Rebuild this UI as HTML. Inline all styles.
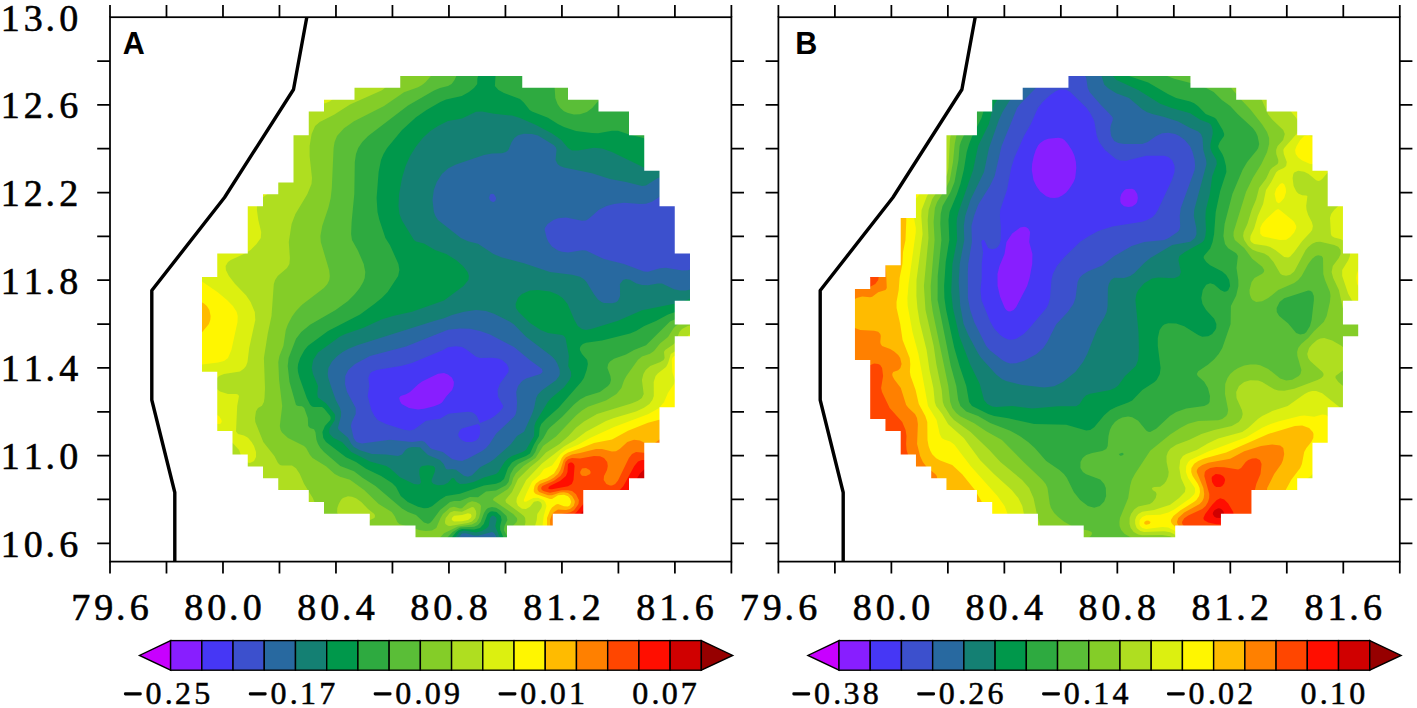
<!DOCTYPE html>
<html><head><meta charset="utf-8"><style>
html,body{margin:0;padding:0;background:#fff;overflow:hidden;width:1417px;height:708px;}
svg{display:block;}
.ax{font-family:"Liberation Serif",serif;font-size:38px;fill:#000;stroke:#000;stroke-width:0.6px;}
.cb{font-family:"Liberation Serif",serif;font-size:32px;fill:#000;stroke:#000;stroke-width:0.5px;}
.pl{font-family:"Liberation Sans",sans-serif;font-weight:bold;font-size:30.5px;fill:#000;}
</style></head><body>
<svg width="1417" height="708" viewBox="0 0 1417 708">
<rect width="1417" height="708" fill="#fff"/>
<defs>
<mask id="dm0" maskUnits="userSpaceOnUse" x="0" y="0" width="1417" height="708"><path d="M202.00,277.11 L217.25,277.11 L217.25,253.45 L232.50,253.45 L232.50,253.45 L247.75,253.45 L247.75,206.13 L263.00,206.13 L263.00,194.30 L278.25,194.30 L278.25,182.47 L293.50,182.47 L293.50,135.15 L308.75,135.15 L308.75,111.49 L324.00,111.49 L324.00,99.66 L339.25,99.66 L339.25,99.66 L354.50,99.66 L354.50,87.83 L369.75,87.83 L369.75,87.83 L385.00,87.83 L385.00,87.83 L400.25,87.83 L400.25,76.00 L415.50,76.00 L415.50,76.00 L430.75,76.00 L430.75,76.00 L446.00,76.00 L446.00,76.00 L461.25,76.00 L461.25,76.00 L476.50,76.00 L476.50,76.00 L491.75,76.00 L491.75,76.00 L507.00,76.00 L507.00,76.00 L522.25,76.00 L522.25,87.83 L537.50,87.83 L537.50,87.83 L552.75,87.83 L552.75,87.83 L568.00,87.83 L568.00,99.66 L583.25,99.66 L583.25,99.66 L598.50,99.66 L598.50,111.49 L613.75,111.49 L613.75,111.49 L629.00,111.49 L629.00,135.15 L644.25,135.15 L644.25,170.64 L659.50,170.64 L659.50,206.13 L674.75,206.13 L674.75,253.45 L690.00,253.45 L690.00,300.77 L674.75,300.77 L674.75,407.24 L659.50,407.24 L659.50,442.73 L644.25,442.73 L644.25,478.22 L629.00,478.22 L629.00,490.05 L613.75,490.05 L613.75,490.05 L598.50,490.05 L598.50,490.05 L583.25,490.05 L583.25,513.71 L568.00,513.71 L568.00,513.71 L552.75,513.71 L552.75,525.54 L537.50,525.54 L537.50,525.54 L522.25,525.54 L522.25,525.54 L507.00,525.54 L507.00,537.37 L491.75,537.37 L491.75,537.37 L476.50,537.37 L476.50,537.37 L461.25,537.37 L461.25,537.37 L446.00,537.37 L446.00,537.37 L430.75,537.37 L430.75,537.37 L415.50,537.37 L415.50,525.54 L400.25,525.54 L400.25,525.54 L385.00,525.54 L385.00,525.54 L369.75,525.54 L369.75,513.71 L354.50,513.71 L354.50,513.71 L339.25,513.71 L339.25,513.71 L324.00,513.71 L324.00,501.88 L308.75,501.88 L308.75,490.05 L293.50,490.05 L293.50,490.05 L278.25,490.05 L278.25,478.22 L263.00,478.22 L263.00,466.39 L247.75,466.39 L247.75,454.56 L232.50,454.56 L232.50,430.90 L217.25,430.90 L217.25,371.75 L202.00,371.75ZM674.75,324.43h15.25v11.83h-15.25Z" fill="#fff"/></mask>
<mask id="dm1" maskUnits="userSpaceOnUse" x="0" y="0" width="1417" height="708"><path d="M854.95,288.94 L870.20,288.94 L870.20,277.11 L885.45,277.11 L885.45,265.28 L900.70,265.28 L900.70,217.96 L915.95,217.96 L915.95,194.30 L931.20,194.30 L931.20,194.30 L946.45,194.30 L946.45,135.15 L961.70,135.15 L961.70,135.15 L976.95,135.15 L976.95,111.49 L992.20,111.49 L992.20,99.66 L1007.45,99.66 L1007.45,99.66 L1022.70,99.66 L1022.70,87.83 L1037.95,87.83 L1037.95,87.83 L1053.20,87.83 L1053.20,87.83 L1068.45,87.83 L1068.45,76.00 L1083.70,76.00 L1083.70,76.00 L1098.95,76.00 L1098.95,76.00 L1114.20,76.00 L1114.20,76.00 L1129.45,76.00 L1129.45,76.00 L1144.70,76.00 L1144.70,76.00 L1159.95,76.00 L1159.95,76.00 L1175.20,76.00 L1175.20,76.00 L1190.45,76.00 L1190.45,87.83 L1205.70,87.83 L1205.70,87.83 L1220.95,87.83 L1220.95,87.83 L1236.20,87.83 L1236.20,99.66 L1251.45,99.66 L1251.45,99.66 L1266.70,99.66 L1266.70,111.49 L1281.95,111.49 L1281.95,111.49 L1297.20,111.49 L1297.20,135.15 L1312.45,135.15 L1312.45,170.64 L1327.70,170.64 L1327.70,206.13 L1342.95,206.13 L1342.95,253.45 L1358.20,253.45 L1358.20,300.77 L1342.95,300.77 L1342.95,407.24 L1327.70,407.24 L1327.70,442.73 L1312.45,442.73 L1312.45,478.22 L1297.20,478.22 L1297.20,490.05 L1281.95,490.05 L1281.95,490.05 L1266.70,490.05 L1266.70,490.05 L1251.45,490.05 L1251.45,513.71 L1236.20,513.71 L1236.20,513.71 L1220.95,513.71 L1220.95,525.54 L1205.70,525.54 L1205.70,525.54 L1190.45,525.54 L1190.45,525.54 L1175.20,525.54 L1175.20,537.37 L1159.95,537.37 L1159.95,537.37 L1144.70,537.37 L1144.70,537.37 L1129.45,537.37 L1129.45,537.37 L1114.20,537.37 L1114.20,537.37 L1098.95,537.37 L1098.95,537.37 L1083.70,537.37 L1083.70,525.54 L1068.45,525.54 L1068.45,525.54 L1053.20,525.54 L1053.20,525.54 L1037.95,525.54 L1037.95,513.71 L1022.70,513.71 L1022.70,513.71 L1007.45,513.71 L1007.45,513.71 L992.20,513.71 L992.20,501.88 L976.95,501.88 L976.95,490.05 L961.70,490.05 L961.70,490.05 L946.45,490.05 L946.45,478.22 L931.20,478.22 L931.20,466.39 L915.95,466.39 L915.95,454.56 L900.70,454.56 L900.70,430.90 L885.45,430.90 L885.45,419.07 L870.20,419.07 L870.20,359.92 L854.95,359.92ZM1342.95,324.43h15.25v11.83h-15.25Z" fill="#fff"/></mask>
</defs>
<g mask="url(#dm0)">
<rect x="178.0" y="62" width="526" height="490" fill="#c800ff"/>
<path d="M180,64l520 0.0 0 484.0-520 0z" fill="#881eff" fill-rule="evenodd"/>
<path d="M180,64l520 0.0 0 484.0-520 0zM438,373.7l-16 7.8-4 2.9-8 7.6-4 2.3-5.4 1.7-1.4 2.0 0.8 3.2 1.7 2.8 7.3 4.0 9 1.5 6-0.7 10-2.5 5.7-2.3 2.3-1.6 4.6-6.4 5.5-6.0 1.5-4.0 0.3-4.0-1.9-4.3-4-3.2-4-1.5z" fill="#4637f5" fill-rule="evenodd"/>
<path d="M180,64l520 0.0 0 484.0-219.9 0.0-6.1-1.0-4.2 1.0-289.8 0zM448,347.3l-4.8 2.7-31.2 13.1-10 2.7-25.5 4.2-4.5 1.7-2 1.7-1.7 4.6 1 8.0-1.6 10.0 3.6 14.0 3.2 6.0 3.2 4.0 8.3 4.0 18 5.8 6 0.8 4-1.1 12-8.7 14-2.0 8-4.8 2-0.4 18-1.8 4 0.5 3 1.7 1.8 2.0 3.2 6.9 10-3.9 4.7-3.0 4.6-4.0 3.3-4.0 0.6-2.0-5.2-9.2-0.4-6.8 2.4-6.5 8.4-11.5 0.2-4.0-1.9-4.0-4.7-4.0-4-1.5-6-0.7-12 0.1-4-1.1-10-7.6-4-2.1-6-0.9zM478,424l-16 4.6-2 1.6-1.8 3.8 0.2 2.0 1.6 2.6 2 1.7 4 1.7 6 0.1 4-1.5 2.5-2.6 1.5-4.0 0-7.7z" fill="#3c50cd" fill-rule="evenodd"/>
<path d="M180,64l520 0.0 0 140.3-8-4.8-8-3.6-10-2.6-6-0.3-6 2.2-10 6.5-6 2.0-6 0.3-16-1.3-9.9 1.3-7.5 2.0-8 4.0-8.6 7.8-4 2.6-4 0.4-16-3.3-8 0.7-4.5 1.8-5.8 4.0-2.8 4.0-0.2 2.0 2 8.0 1.8 4.0 3.5 4.4 6 4.1 4 1.3 6 0.6 14-2.1 4 0.3 18 8.4 20 5.0 20 7.6 4 0.2 12-3.5 6-0.6 16 2.7 6-0.1 5.2-2.3 6.8-5.2 0 285.2-206.1 0.0-1.8-8.0-2.1-1.9-12 1.7-12-2.2-2 0.3-2 2.0-2.3 8.1-279.7 0zM448,329.8l-42 16.8-36 9.4-14.9 8.0-6.8 6.0-3 6.0-0.3 8.0 2.1 8.0 8.6 16.0 0 6.0-3.9 8.0-0.9 4.0 2.8 12.0 2.3 3.4 2 1.2 4 0.9 28-3.8 22 2.2 10-1.2 2.8 1.3 5.2 5.7 2 1.2 10.9 3.1 9.1 6.9 6 1.7 4 0.3 6-2.3 14-7.5 4-3.0 3.5-4.1 6.5-10.3 18-17.0 1.7-2.7 0.9-4.0 0.4-8.0-0.8-10.0 1.8-6.1 4-4.9 4-2.5 14.4-4.5 2.2-2.0-0.6-3.0-12-8.8-16-13.1-24-12.6-10-3.6-10-2.2-10-0.3zM492,193.7l-2 0.9-0.9 3.4 0.9 2.3 2 1.5 2 0.1 1.8-1.9 0.3-2.0-2.1-3.7z" fill="#2869a0" fill-rule="evenodd"/>
<path d="M180,64l520 0.0 0 112.0-18-1.1-18 1.3-6.2 1.8-11.8 7.5-4 0.6-16-4.2-16-2.9-18-5.7-28-5.7-4-1.5-2.5-2.1-2-4.0 1-10.0-0.5-2.2-2-2.6-16-9.7-6-1.4-8-0.4-6 1.6-3.6 2.7-2.7 4.0-3.3 8.0-2.4 2.1-4 1.2-10 0.2-8 1.4-28 9.5-8 4.0-6.1 5.6-5.1 8.0-3 8.0-1.3 10.0 1.4 12.0 1.5 4.0 2.6 4.0 22.9 18.0 7.1 3.3 10 2.4 15.5 10.3 8.5 3.5 22 5.8 26 8.7 22 2.7 8 2.0 4 2.6 2.5 2.7 7.5 12.2 4 5.3 3.5 2.5 2.5 0.9 8 0.4 4-1.1 2-1.5 2.1-4.7-0.2-12.0 3.1-4.0 3-1.0 4 0.8 6 3.4 6 1.8 6 0.2 10-1.8 4 0.1 12 5.8 6 1.3 6-0.2 4-0.9 10-4.7 0 263.2-201 0.0-3-12.1-2-3.0-2-0.9-14 3.8-4-0.3-8-2.2-4 0.2-3.8 4.5-3.3 10.0-274.9 0zM464,311.7l-12 3.2-8 3.3-10 2.7-76 24.2-10 4.0-5.3 2.9-5.4 4.0-5.3 5.5-3.6 6.5-0.7 6.0 0.6 4.0 3.2 10.0 4.3 12.0 4.2 8.0 1.1 4.0-0.1 4.0-3.1 12.0 1 2.0 9.1 7.8 3.4 6.2 2.6 3.0 6 3.3 12 3.6 14 0.7 12 1.5 4-1.6 3.5-4.5 2.6-2.0 3.9-0.9 8 0.1 8 7.7 12 5.2 3.6 3.9 2.4 5.1 2 0.5 4-0.7 4 0.9 8 5.9 4 1.0 4-1.4 8-8.0 10-5.2 4-2.8 17-15.3 6-8.0 7-4.2 8-17.9 2.1-5.9 2-10.0 1.9-3.8 4.3-4.2 13.7-9.7 3.1-4.3 0.7-2.0-0.1-4.0-2.2-6.0-2.3-4.0-3.2-3.6-26-19.6-12-12.4-4-2.7-16-8.0-8-2.7-10-0.9z" fill="#148073" fill-rule="evenodd"/>
<path d="M180,64l520 0.0 0 91.3-8 1.3-10 2.8-26 11.1-4 0.1-4-1.1-36.1-17.5-9.9-3.6-8-0.6-16 2.8-6-0.1-4-2.4-6.7-8.1-9.3-6.5-16-8.5-16-7.1-8-2.3-18-1.9-12-2.2-6 0.2-14 6.8-14 2.4-10 5.0-8 5.4-7.2 6.7-6.8 8.4-5.9 9.6-4.5 10.0-3.6 12.2-2.9 15.8-0.6 12.0 1 8.0 2.5 6.4 12 19.7 2 1.3 8 2.2 11 6.4 11.3 4.0 9.7 5.9 7 6.1 4.6 6.0 1.3 4.0-0.5 4.0-4.9 6.0-19.5 14.5-32 11.2-18 4.0-12 3.6-19.1 8.7-17.6 6.0-5.3 2.5-22 15.9-4.8 7.6-1.5 8.0 1.3 6.0 5 12.0-0.7 8.0 0.7 3.4 8 5.8 8.7 10.8 0.5 2.0-0.4 4.0-5.1 8.0-0.5 4.0 0.5 2.0 3.9 4.0 8.4 4.1 9.3 9.9 18.7 9.6 16.3 4.4 3.7 2.3 10 8.9 14 6.8 4 0.6 2-0.7 1-1.9-1.7-8.0 0-4.0 0.7-2.2 2-1.9 6-0.7 5.3 0.8 1.9 2.0-0.5 4.0-3.1 8.0 0.1 2.0 2 2.0 4.3 1.2 6-0.4 4-2.1 4-4.7 2 0.3 2.7 3.7 3.3 2.0 6-0.2 7.6-1.8 10.4-4.5 12-3.6 2.3-1.9 6.3-10.0 3.4-3.5 4-2.6 10.6-3.9 3.4-2.3 8.1-13.7 0.3-10.0 1.3-4.0 12.1-20.0 3.5-4.0 12.7-10.8 5.5-7.2 1.7-4.0-0.2-4.0-2.8-6.0 0.7-10.0-3.4-18.0-1.5-1.9-2-1.1-14-1.9-7.3-3.1-10.7-7.1-11.3-10.9-2.8-4.0-0.3-4.0 2.3-6.0 4-4.0 8.1-3.4 8-0.7 12 1.7 8 3.1 4.6 3.3 5 6.0 6.8 16.0 3.4 6.0 4.2 3.0 4 0.9 6-1.2 26-7.9 24-10.6 36-7.3 22-7.4 0 252.5-196.6 0.0-2.4-8.0-5.1-12.0-0.6-2.0 1.3-6.0-0.2-2.0-2.4-2.3-2 0.1-2 2.1-1.3 8.1-1.7 2.0-5 3.0-6 1.6-12-2.0-4.5 1.4-4.8 6.0-4 10.0-270.7 0z" fill="#00984b" fill-rule="evenodd"/>
<path d="M180,64l520 0.0 0 64.0-12 3.8-26 11.0-4 0.4-4-0.7-10.6-4.5-13.4-3.2-12-4.0-6-0.1-14 2.5-6-0.2-16-2.1-12-3.9-6.1-3.0-9.9-6.3-16-6.2-2.3-1.5-5.7-7.3-4-3.6-16-6.0-5.5-3.1-3.6-4.0 0.6-10.0-1.1-4.0-2.4-3.0-4-1.5-4 0.9-4 3.4-2.6 6.2-0.2 6.0-3.2 4.0-5.1 4.0-7.1 4.0-15.8 3.6-5.7 2.4-13.8 8.0-10.5 7.2-14 12.8-14.9 18.0-3.6 6.0-2.5 6.0-2.4 12.0-2 26.0 0.9 14.0 1.9 8.0 6 18.0 4.6 7.2 8.4 18.8 1 6.0-1.3 6.0-10.5 16.0-5.9 6.0-7.4 6.0-14.3 10.4-32 16.5-20 14.8-3.5 4.3-4.4 8.0-2 6.0-0.4 4.0 0.3 4.0 1.6 6.0 7.2 20.0 3.2 6.6 2 1.8 2 0.5 8 0.1 2 1.4 6.2 7.6 0.5 2.0-0.4 2.0-5.4 6.0-2.5 6.0 0.9 6.0 2.7 4.1 20 15.2 10 4.6 10 6.8 15.1 7.3 10.9 7.0 4 4.1 4.7 8.9 7.1 6.0 10.2 4.8 6 1.4 4-0.1 4-1.9 8-6.5 6-3.6 14-2.4 24-8.1 12-1.9 4.6-1.7 3.4-3.1 4-10.9 4-5.4 4-2.7 10-4.0 4-2.5 4.3-9.4 4.7-8.0 0.7-8.0 1.6-4.0 4.7-5.0 12.4-11.0 22.8-26.0 2.7-4.0 2.8-8.0 1.2-6.0-0.7-4.0-5.2-6.0-2.1-4.0 0-2.0 0.9-2.0 2.1-2.0 3.1-1.2 16-2.3 28-7.0 6-2.6 8.3-4.9 11.7-4.9 12-6.7 32-11.0 0 244.6-192.1 0.0-7.7-18.0-0.1-4.0 1.5-6.0-0.8-4.0-4.3-4.0-4.5-0.8-2 0.6-2.4 2.2-3.9 10.0-3.7 4.0-6 1.6-12-0.7-3.1 1.1-2.7 2.0-6.4 8.0-3.4 8.0-266.4 0z" fill="#2eaa40" fill-rule="evenodd"/>
<path d="M180,64l281.8 0.0-7.3 16.0-2.9 4.0-3.6 1.9-8 2.2-6 2.5-26 15.0-39.9 30.4-5.9 6.0-4 6.0-2.2 6.0-1.2 8.0-0.5 32.0-2.7 28.0-0.5 12.0 0.9 6.1 6 10.6 5.7 13.3 1.6 8.0-0.6 6.0-1.5 4.0-3.5 6.0-4.8 6.0-6.9 6.9-12.4 9.1-25.6 14.7-8.8 7.3-5.2 6.8-7.4 19.2-0.9 8.0 1.8 16.0 6.5 23.0 2 0.9 4 0.3 2.2 1.8 3.6 10.0 0.4 8.0 1.8 2.0 4 1.3 1.4 2.7 1.1 8.0 1.5 4.0 2.4 4.0 3.6 3.9 16.3 14.1 13.7 5.3 8.9 6.7 12.6 8.0 26.5 22.6 6 3.5 8 2.9 8 7.4 4 1.3 2-0.8 2-1.9 8.1-11.0 9.9-7.9 4-1.0 6-0.1 10-4.0 8 0.3 8-5.9 10-1.0 10-5.2 2.5-3.2 2-8.0 3.4-6.0 4.2-4.0 11.9-6.0 2.6-2.0 2.7-4.0 2.7-7.0 5.4-7.0 4.4-8.0 2.2-2.6 12-10.3 12-12.5 6-5.1 6-3.3 13.9-4.2 8.1-6.0 2-2.6 1-3.4-0.6-4.0-3-8.0 0.8-4.0 1.8-2.6 4-2.7 12-4.2 8-4.5 12-4.8 24-23.8 16-7.0 14-4.2 0 237.8-187.2 0.0-1.4-4.0-7.6-14.0 0.7-4.0 2.9-6.0-0.9-4.0-6.5-6.1-4-2.1-4-0.8-4 1.1-2 1.6-2 3.4-3.4 8.9-2.6 3.1-4 1.7-14 0.8-7.4 4.4-7.4 8.0-3.6 8.0-261.6 0zM543.9,64l156.1 0.0 0 18.5-35.1 5.5-36.9 2.2-12 1.9-8 2.6-6 3.2-4 3.4-5.8 6.7-5.3 4.0-6.9 2.3-6 0.1-6-1.3-4-1.8-3.7-3.3-2.8-4.0-2.2-6.0-0.8-12.0-1.5-6.0-3-6.8z" fill="#5abe37" fill-rule="evenodd"/>
<path d="M180,64l264 0.0-2 3.7-2 2.0-8 5.1-6.3 7.2-3.7 3.1-4 2.1-14 5.1-20 13.6-30 15.3-10 7.0-7 7.8-2.4 6.0-1 6.0-1.8 40.0-1.1 10.0-2.4 10.0-6.1 18.0-1.8 10.0 0.4 6.0 8.3 28.0 0.7 6.0-0.5 4.0-1.9 4.0-3.5 4.0-21.9 16.7-6 6.2-4 5.6-4 7.5-2.2 6.0-2.4 16.0-4 10.0-1.1 6.0 0.8 18.0 3.1 26.0-2.4 20.0 0.8 4.0 1.4 2.6 6 5.4 16 8.1 2.1 1.9 3.9 6.9 2.6 3.1 13.4 8.3 8.7 7.7 5.3 2.7 10 3.0 14.1 10.3 14.6 14.0 13 8.0 2.9 4.0 2.7 6.0 2 2.0 20.7 6.3 6 0.7 6-0.5 4.3-2.5 4.2-10.0 2.4-4.0 7.1-6.2 4-1.1 6 1.9 2-0.4 6-5.5 4-1.5 4 0.8 3.8 2.0 1.2 2.0-0.5 6.0-1.5 6.0-2.4 4.0-4.6 2.5-14 2.0-14 6.7-4 4.4-4.2 10.4-255.8 0zM684,321.1l16-4.4 0 231.3-181.4 0.0-1.2-4.0-5.3-10.0-1.2-4.0 1.1-3.0 4.6-5.0 0.7-2.0-0.4-2.0-3.7-4.0-20.3-14.0 1-2.0 14.1-9.0 3.5-5.0 1.7-6.0 2.8-4.7 7.6-7.3 11.9-8.0 7.6-12.0 12.9-9.5 20-21.1 6-4.9 6-3.7 18-6.2 10.5-6.6 4.9-6.0 2.6-7.5 2.4-4.5 11.6-16.2 4-3.2 8-2.8 4-2.8 6-7.4 8-6.6 5.7-9.0 2.3-2.3z" fill="#84cd28" fill-rule="evenodd"/>
<path d="M180,64l244 0.0-3.8 8.0-2.2 2.8-4 1.3-10-2.1-6 1.5-4 3.0-8 8.6-4 3.1-32 14.4-16 10.2-14.3 7.2-4.6 4.0-3.5 8.0-2 12.0 0 10.0 2.4 22.0-0.5 6.0-4.1 10.0-12 20.0-3.8 10.0-2.8 18.0 1.1 16.0-0.5 6.0-2.4 4.0-9.3 8.0-2.6 4.0-1.3 4.0-2.3 32.0-3.8 18.0-3.8 24.0 1.1 30.0-0.5 10.0-0.6 4.0-1.9 3.8-4 2.1-2 3.4-1 6.7 0.3 4.0 8 20.0 11.1 14.0 3.6 7.1 2 1.8 2 0.6 10 0.1 4 2.6 3.8 5.8 4.2 9.7 8.8 14.3 2.4 6.0 1.2 8.0-0.4 24.0-1.2 12.0-98.6 0.0-5.4-12.0-2.9-10.0-1.7-10.0-1-18.0-1.2-5.0-2-1.1-4 1.7-18 16.1zM687.7,326l12.3-2.6 0 224.6-174.9 0.0-2.2-14.0 2.6-12.0-0.4-4.0-1.2-2.0-2.5-2.0-15.4-11.5-0.6-2.5 6.6-8.1 6-12.9 12-11.7 9-7.3 7-7.6 13.5-8.4 9-8.0 7.5-8.3 8-6.2 13-7.5 35-10.8 6-2.5 3.9-2.7 1.8-4.0-1.8-14.0 1.5-6.0 2.3-4.0 4.5-4.0 10.2-4.0 3.2-2.0 1-2.0-0.6-6.0 1.1-2.0 8.9-6.1 2.4-3.9 3-8.0 2.6-3.1zM342.9,498l5.1-1.8 4 0.5 4 1.6 5.3 3.7 6.7 6.9 6.3 5.1 0.8 2.0-0.7 2.0-4.4 2.1-2 3.3-1.7 12.6 0.7 4.0 1.1 2.0 7.1 6.0-20.3 0.0-8.9-11.8-4-8.2-4.9-16.0 0.2-4.0 1.4-4.0 2.2-4zM462,511.8l10-4.8 2 0.6 2 3.3 0.3 3.1-0.9 4.0-3.4 3.6-4 1.3-18 3.1-2-0.2-2.6-1.8-0.5-2.0 0.8-4.0 4.3-5.5 4-1.6zM421.5,540l4.5-0.6 2 0.6 0 3.3-2.7 4.7-23.2 0.0 8.2-4z" fill="#afde20" fill-rule="evenodd"/>
<path d="M180,64l202.9 0.0-3.9 4.0-7.7 6.0-23.3 13.9-18 13.3-4 1.9-14 2.7-8 2.9-7.8 5.3-5.6 6.0-4 6.0-3 6.0-3.7 12.0-1.3 12.0 0.4 22.0-1 6.6-4 5.0-10 7.0-3.8 3.4-2.2 3.3-1 2.7-0.1 4.0 1.4 10.0 2.9 12.0-0.4 6.0-4.3 6.0-5.9 6.0-4.6 3.0-15.2 7.0-2.8 2.1-2.4 3.9 0.3 4.0 3 6.0 6.2 8.0 10.9 11.2 4.6 6.8 4.2 10.0 0.5 8.0-6.1 28.0-1.7 14.0-1.5 4.0-2 2.6-4 2.8-16 2.6-5 2.0-4 4.0-0.9 4.0 1.5 4.0 4.4 3.6 8 2.4 8.1 0.0 1.9 0.6 1 1.4-1.8 10.0-1.2 25.4 2 2.5 6 1.6 4 2.3 3.6 4.2 2.4 4.1 2 5.9 0 5.1-2 4.0-4 2.0-4-0.8-2-1.4-2.2-2.9-2.7-8.0-7.4-8.0-3.7-2.4-6-0.7-6 0.5-36 6.4zM690.4,334l9.6-2.6 0 216.6-168.2 0.0 0.4-12.0 4.5-16.0 0.6-6.0 4-6.0 0.6-2.0-0.2-2.0-1.3-2.0-2.4-1.1-4 0.9-4 4.9-4 2.3-4-0.3-4-3.0-1.6-3.7 0.4-4.0 9.4-18.0 15.8-16.6 22-16.8 11-6.6 11-8.2 20-10.7 8-3.1 22-6.5 8-3.7 5.4-3.8 3-4.0 1.4-4.0-0.1-14.0 1.9-6.0 2.4-2.8 8-6.3 2-3.6 2.8-9.3 9.2-6.0 8-12.2zM462,515l6-1.7 2.9 0.7 0.7 2.0-0.8 2.0-2.8 2.0-6 1.2-8 0.3-2.2-1.5 0.1-2.0 2.1-2.2z" fill="#dcf010" fill-rule="evenodd"/>
<path d="M180,64l166.2 0.0-7.2 6.0-15.4 10.0-7.6 3.3-24 8.1-14 7.9-8.1 6.7-7.4 8.0-5.8 8.0-5.6 10.0-10 24.0-9.2 28.0-1.7 12.0 0.8 20.0-1 4.8-4 4.6-16 8.5-7.6 6.1-5.7 8.0-1.7 4.0-1.3 6.0 0.7 10.0 2.2 6.0 2.4 4.0 3.7 4.0 14.7 10.0 9.6 8.0 5.9 6.0 3.8 6.0 1 4.0-0.2 6.0-6.1 28.0-3.4 7.9-4 3.0-6 1.7-16 1.9-7.2 3.5-6.5 6.0-8.3 11.8zM696.1,344l3.9-1.6 0 205.6-162 0.0 1.1-10.0 3.4-12.0 1.2-10.0 2.8-10.0-1.3-4.0-1.8-2.0-5.4-2.2-4.8 0.2-7.2 3.7-2-0.3-0.2-1.4 2.4-6.0 5.8-12.2 8-7.4 4-5.3 8-3.7 8.6-11.4 5.4-4.2 12-5.1 12-6.8 24-10.8 34.5-13.1 10.6-6.0 5-6.0 3.9-9.3 6-8.7 0.7-2.0 0.1-2.0-2.5-8.0-0.5-12.0 0.5-2.0 1.7-2.0 11.1-4zM209.1,414l4.9-0.4 5 2.4 2.5 4.0 0.2 2.0-1.5 2.0-6.2-0.2-4-1.8-2.3-2.0-1.1-2.0 0.1-2z" fill="#fff600" fill-rule="evenodd"/>
<path d="M180,64l105.9 0.0-19.9 10.5-14 9.1-12.4 10.4-11.4 12.0-9.2 12.0-10.3 16.0-9.7 18.0-15 31.3-4 6.2zM180,344.9l0-54.6 24 13.1 2.8 2.6 2.6 4.0 1.2 6.0-0.3 4.0-1.4 4.0-8.9 10.7-8 5.4zM685.7,364l14.3-6.8 0 190.8-156.3 0.0 0.7-8.0 2.6-14.0 0-8.0 3-7.5 2-2.9 4-3.2 2-0.4 6 2.2 4 0.2 2-1.2 1.2-3.2-1.2-3.4-2-2.3-4-1.6-6 0.5-6 3.7-2 0.1-14.2-5.0-1.9-2.0-0.2-2.0 0.8-4.0 1.5-2.6 4-2.9 7-2.5 7-4.6 4-6.3 3.7-9.1 2.3-2.9 4-2.7 12-3.8 14-5.6 18-3.5 16-8.8 20-7.9 16-4.2 8.5-4.6 4.3-4.0 5.2-6.5 4.6-7.5 2.4-6.0 1.1-6.0-0.2-4.0-0.8-4.0-3.8-10z" fill="#ffbb00" fill-rule="evenodd"/>
<path d="M180,64l2 0.0 36.2 0.0-20.1 18.0-18.1 18zM690.6,416l9.4-11.2 0 143.2-151 0.0 1.3-20.0-0.3-8.0 2-5.6 2-2.5 4-2.4 8 0.4 4-0.8 3.7-3.1 1.2-4.0-0.5-2.0-2.4-3.9-4-3.0-4-0.8-4 0.1-8 2.8-4 0.1-8.9-3.3-1.5-2.0-0.1-2.0 0.6-2.0 1.9-2.1 9.9-3.9 4.1-2.4 4-3.6 2.4-4.0 3.3-10.0 2.3-2.8 6-2.8 8-1.4 16-4.1 6 0.1 10 2.5 4-0.2 4-2.6 7.3-6.7 6.7-2.3 6 0.8 8 4.1 2 0.3 3.7-0.9 10.3-7.9 12-7.6 8-6.1z" fill="#ff8000" fill-rule="evenodd"/>
<path d="M679.1,442l20.9-15.4 0 121.4-145.9 0.0-0.5-26.0 1.2-4.0 1.8-2.0 3.4-1.8 10-1.7 4-2.2 4.5-6.3 0.4-4.0-2.9-5.7-4-3.3-4-0.8-6 0.0-12 2.6-6-1.5-2.2-1.3-0.7-2.0 1.2-2.0 11.7-5.2 6.4-4.8 2.7-4.0 2.4-10.0 2.5-2.8 4-1.3 8 0.5 14-2.5 6 0.4 4 1.7 3.2 4.0 0.6 4.0-0.8 4.0-3 6.0-0.3 4.0 2.7 4.0 3.6 1.5 2 0.0 3.2-1.5 2.8-3.4 10.9-22.6 3.1-4.0 4-1.9 16 1.3 10-2.2 7-3.2zM586,468l-4 0.4-1.9 3.6 0.4 2.0 1.5 1.8 4 0.3 4.2-2.1 0.5-2.0-1.1-2z" fill="#ff4600" fill-rule="evenodd"/>
<path d="M682,452.7l18-10.1 0 105.4-140.7 0.0-0.8-20.0 1.2-6.0 2.3-2.3 10-4.2 4-2.8 7.4-8.7 4.3-8.0 2.3-2.3 4-1.3 16 1.4 6-1.5 4-2.5 3.4-3.8 10.9-20.0 3.7-4.6 4-1.5 16 0.1 10.6-2zM568,464l2-1.6 2 0.1 1.8 1.5 0.8 2.0-1.1 14.0-1.7 4.0-3.8 2.3-16 3.0-2 0.0-2-1.1 1.8-2.2 10.2-4.9 5.9-5.1 1.6-4z" fill="#ff0e00" fill-rule="evenodd"/>
<path d="M699.8,456l0.2 92.0-134.7 0.0-0.8-14.0 0.3-4.0 1.4-4.0 1.8-2.2 10-7.5 6-6.3 6-4.6 4-2.1 4-1.2 16-1.8 8-3.3 7.7-7.0 10.3-16.4 4-4.1 4-1.1 14-0.5 10-1.5 12-3.6z" fill="#d00000" fill-rule="evenodd"/>
</g>
<g mask="url(#dm1)">
<rect x="846.2" y="62" width="526" height="490" fill="#c800ff"/>
<path d="M848.2,64l520 0.0 0 484.0-520 0z" fill="#881eff" fill-rule="evenodd"/>
<path d="M848.2,64l520 0.0 0 484.0-520 0zM1020.2,227.5l-8 6.1-5.7 8.4-2 12.0-5 12.0-2 8.0 0.1 12.0 2.6 11.1 4.6 10.9 1.5 2.0 1.9 1.2 2 0.3 3.4-1.5 2.6-3.0 10.9-21.0 2.5-8.0 2.6-14.0 0.2-10.0-3.2-12.0 0.9-10.0-1.9-3.5-2-1.3-2-0.5zM1058.2,137.7l-10 1.0-4 1.5-4 2.7-2 2.4-2.4 4.7-2 6.0-1.7 8.0-0.3 6.0 1.7 10.0 2.8 6.0 3.9 5.6 6 4.7 4 1.4 4 0.2 4-0.5 4-1.8 4-3.2 3.6-4.4 3.8-6.0 1.6-4.0 1.1-10.0-0.4-6.0-1.4-6.0-2.3-5.2-4.3-6.8-3.5-4.0-2.2-1.4zM1126.2,189.1l-2 1.1-2.9 3.8-1.1 4.0 0.2 4.0 1.1 2.0 2.7 2.2 4 0.9 4-0.6 3.6-2.5 1.3-2.0 0.8-4.0-0.7-4.0-2.5-4.0-2.5-1.3z" fill="#4637f5" fill-rule="evenodd"/>
<path d="M848.2,64l520 0.0 0 484.0-520 0zM1060.2,89.5l-4 1.4-6 4.0-7.5 7.1-4.8 6.0-7 16.0-6.9 12.0-9.7 22.0-3.1 10.0-4.2 22.0-6.8 20.0-0.3 6.0 1 12.0-0.3 12.0-0.9 4.0-1.5 2.5-2 1.7-4 1.1-4.1-1.3-3.9-8.1-2 0.0-0.9 2.1 1.8 10.0-1.4 12.0 0 14.0-1.2 12.0 1 10.0 8.7 21.4 4 7.1 6 6.5 4 2.8 4 1.6 4 0.3 4-1.0 7.5-4.7 4.5-4.4 18.2-21.6 2-4.0 1.6-6.0 1.4-18.0 1.4-6.0 4.1-8.0 7.3-8.7 16-15.6 8-5.3 10-5.4 14-4.6 30-4.7 5-1.7 5-2.8 3.2-3.2 2.4-4.0 14.1-30.0 2.6-8.0 0.1-6.0-2.4-5.7-4-3.3-4-1.3-18 0.1-20 4.9-6-0.1-4-1.3-11.3-9.3-5.8-8.0-2.3-6.0-2.6-15.0-3.5-7.0-4.1-6.0-16.4-16.0-4-2.2z" fill="#3c50cd" fill-rule="evenodd"/>
<path d="M848.2,64l520 0.0 0 484.0-520 0zM1060.2,69.5l-8 3.8-8 6.2-24 24.5-3.1 4.0-15.5 38.0-6.9 30.0-4.8 10.0-11.7 18.7-4 10.7-2.8 10.6 0.5 16.0-3.7 22.0-0.4 8.0 0.1 26.0 2.3 12.1 4 11.9 12 24.0 4 4.5 12 9.4 4 2.4 4 1.2 6-0.2 8-2.5 12-6.5 7-6.3 4-6.0 9-17.7 11.5-12.3 5.6-8.0 2.2-6.0 2.1-16.0 1.8-4.0 2.8-3.1 6-3.6 14-5.9 12-9.3 17.4-10.1 12.6-4.0 20-1.9 4.4-2.1 8.9-6.0 1.7-2.0 1-3.6-0.5-10.4 1.1-8.0 13.8-38.0 0.5-4.0-0.5-6.0-2.1-8.0-2.3-5.5-5.5-6.5-5.4-4.0-4.2-2.0-6.9-1.3-6 0.5-6 2.7-8.4 6.1-5.6 2.0-18-0.1-6-1.0-4-2.0-3-4.9-0.9-6.0 0.3-4.0 2.1-6.0 0.1-2.0-1.2-2.0-11.4-11.7-10.7-12.3-1.8-4.0-1.5-10.0-2-3.6-4-3.4-6-2.4-6-0.6z" fill="#2869a0" fill-rule="evenodd"/>
<path d="M848.2,64l193.2 0.0-9.2 10.4-10.5 13.6-11.6 12.0-7.6 12.0-3.6 8.0-9.9 28.0-5 24.0-13.6 28.0-5.2 16.0-1.4 10.0 0.5 14.0-4.6 24.0-1 18.0 1.5 23.3 3.4 18.7 4.6 10.8 10 18.7 3 4.5 15 16.6 6 4.7 4 1.7 16 4.1 22 2.3 10-1.2 8.6-4.2 12.5-10.0 7.7-10.0 4.2-8.0 10.4-26.0 6.6-10.5 2.4-5.5 1-6.0 0.3-18.0 0.9-4.0 2.2-4.0 3.2-2.3 10 0.2 6-1.9 4-2.8 10-10.3 6.1-4.9 21.9-12.9 18-3.3 4.7-3.8 1.6-4.0-0.2-6.0-2.5-12.0 0.4-6.0 12.3-46.0-0.4-4.0-2.8-10.0-0.8-12.0-1.5-4.0-2.8-2.6-8-3.5-12-6.5-14-4.5-12-2.8-5.5-2.1-4.5-2.8-13.2-11.2-12.8-4.8-8-4.9-4-3.9-3.3-10.4-6.4-10.0 273.7 0.0 0 484.0-520 0z" fill="#148073" fill-rule="evenodd"/>
<path d="M848.2,64l176.6 0.0-9.9 14.0-14.7 17.6-5.7 8.4-2.3 6.0-3.3 14.0-10.8 22.0-5 24.0-14.6 42.0-1.5 6.0-0.4 6.0 0.5 16.0-4.7 24.0-1.2 28.0 1.7 16.0 6.4 28.0 10.9 28.5 9.6 19.5 4.2 16.0 3.4 4.0 4.8 2.6 4 0.4 16-0.9 20 2.4 26-2.3 18 0.0 3.4-2.2 3.8-6.0 2.8-2.7 4-1.5 20-3.9 4.7-1.9 3.3-2.6 6.8-9.4 10.8-10.0 2.3-6.0 0.8-10.0-0.4-18.0-3.1-32.0 1-6.0 1.9-4.0 5.9-6.8 8-4.6 6-1.2 16 0.8 5.1-2.2 1.6-4.0-2.5-12.0 1-4.0 5.5-4.0 17.3-9.7 1.9-2.3 1.3-4.0 0.6-6.0-0.6-12.0 0.4-8.0 4-16.0 2.4-17.7 4.6-12.3-0.4-4.0-4.6-8.0-1.4-4.0 0-4.0 2.3-10.0-0.1-4.0-1.1-4.0-1.3-2.0-2-1.3-8-2.9-10-6.6-18.5-5.2-11.5-4.3-22-13.7-21.6-10.0-4.4-4.5-5.3-11.5 261.3 0.0 0 484.0-520 0z" fill="#00984b" fill-rule="evenodd"/>
<path d="M848.2,64l161.9 0.0-17.9 25.7-5.6 10.3-5.1 18.0-9.2 18.0-3.2 8.0-2.4 8.0-2.9 18.0-3.4 14.0-3.4 10.0-7.5 18.0-1 8.0 0.8 20.0-3.6 22.0-1.6 24.0 0.3 12.0 1.7 12.0 8.2 38.0 5.2 18.0 6.8 20.0 2.8 16.0 2.9 4.0 16.2 7.9 6 2.0 14 2.4 26 5.8 32 0.7 20 5.8 4-0.6 4-2.8 10-11.9 6-5.2 6-3.1 12-4.4 4-2.2 10.1-10.4 11.9-7.8 2.4-2.2 3.2-6.0 0.8-6.0-2.8-22.0 0-8.0 1.8-8.0 2.8-4.0 1.8-1.4 4-1.4 8 0.2 8 2.8 14 8.7 4 1.8 6-0.4 4-2.4 3.1-3.9 0.9-2.0 0.2-4.0-2.2-5.2-8.1-8.8-3.6-6.0-1.2-6.0 1.5-8.0 3.4-5.2 4-1.5 4 1.3 6.3 5.4 3.7 1.7 2-0.2 2-1.3 1.9-4.2-0.9-6.0-3-5.1-4-3.3-12-6.4-3.9-3.2-2.7-4.0 0.3-2.0 6.3-7.6 2.4-6.4 1.5-8.0 1.6-22.0 4.5-21.1 6.2-18.9-0.4-6.0-2-8.0-1.7-4.0-3.7-6.0-0.4-2.0 1.6-4.0 4.2-6.0 0.2-2.0-1.5-4.0-6.5-10.9-2-1.5-8.5-3.6-7.5-7.8-4-2.9-4-1.8-14.1-3.5-8.2-4.0-19.7-11.4-20-6.9-6-4.6-4.1-7.1 250.1 0.0 0 472.9-8 5.8-5.2 5.3-506.8 0z" fill="#2eaa40" fill-rule="evenodd"/>
<path d="M848.2,64l148.2 0.0-14.8 26.0-3.1 8.0-4.8 16.0-12.9 28.0-1.2 4.0-1.1 14.0-4 22.0-3.9 10.0-8.1 14.0-1.8 8.0-0.4 10.0 1.1 16.0-3.7 36.0-0.1 24.0 13.2 66.0 5.5 20.0 1.9 14.0 2.2 6.0 5.8 5.5 11.9 4.5 12.1 6.9 20 7.8 9.5 5.3 8.4 6.0 6.7 6.0 11.4 12.9 13.2 9.1 4.5 4.0 3 4.0 6.9 14.0 6.3 8.0 7.8 6.0 6.3 1.7 5.6-1.7 4.4-4.5 1.9-5.5-0.3-8.0-1.6-4.1-4-4.4-14-5.3-3.3-2.2-2.5-4.0 0.1-6.0 2.1-4.0 3.6-2.9 6-2.2 10-2.0 4-1.9 1.5-3.0 0.8-10.0 1.4-6.0 1.9-4.0 3.1-4.0 3.3-2.6 4-1.9 6-0.9 4 0.6 6 3.6 8 9.8 2 1.2 2 0.2 6-3.2 13.7-12.8 6.3-4.0 10-3.4 18-2.7 4-1.8 1.4-2.1 0.4-6.0-2.1-8.0-3.7-6.2-6.4-5.8-1-2.0 1.4-2.7 10-6.8 6-5.3 4.5-5.2 3.6-6.0 8.3-24.0 0.3-18.0 5.3-10.4 2.2-9.6-0.1-6.0-1.8-12.0 1.4-12.0-1.7-2.8-8-4.9-3.2-4.3-1.6-8.0 1.2-12.0 7.8-30.0 10.1-24.0 4.7-8.0 9.8-12.0 1.2-2.0 1-4.0-1.6-8.0-1.9-4.0-2.9-4.0-15.2-14.0-7.4-7.9-8.3-6.1-8.2-8.0-7.5-4.0-8-3.0-24-6.2-32-12.5-3.5-2.3 229.5 0.0 0 447.6-8 5.6-12 10.6-12 12.6-6 7.6-161.3 0.0-2.4-2.0-4.3-1.5-10-1.0-16 1.6-16 0.7-6.1 2.2-265.9 0zM1122.2,452.7l-3.4 1.3 1.4 1.7 2-0.2 1.8-1.5zM1308.2,290.6l-24 7.7-4.6 3.7-3 6.0 0.2 4.0 2.4 4.0 9 7.6 8 9.5 4 1.5 4-0.9 2-1.5 3.8-6.2 1.6-6.0 2.3-20.0-0.1-4.0-1.6-4.0-2-1.3z" fill="#5abe37" fill-rule="evenodd"/>
<path d="M848.2,64l135.8 0.0-11 24.0-7.1 22.0-9.6 26.0-1.6 8.0-1.7 18.0-3.2 18.0-3.6 7.9-9.1 14.1-2.2 6.0-1.3 14.0 1 18.0-3.9 46.0 0.4 14.0 1.7 12.0 15.5 74.0 1.9 16.0 2.1 6.0 3.9 5.1 4 3.1 14 7.0 12 8.1 15.7 8.7 21.7 22.0 18.6 17.7 3.5 4.3 1.8 4.0 2.3 16.0 1.2 4.0 3.2 4.9 4 4.1 6 4.7 8 4.6 8 2.7 8 1.4 3.4 1.6 0.4 2.0-1.2 2.0-10.6 8.0-3.6 4.0-228.4 0zM1198.5,64l169.7 0.0 0 422.7-22.2 17.3-11 10.0-6.8 8.4-17 25.6-134.2 0.0-4.8-5.2-6-3.0-14-1.1-14 0.6-6.2-1.3-7.3-4.0-3.5-4.0-1.6-4.0-0.2-4.0 0.6-4.0 8.2-20.0 1.9-12.0 1.6-6.0 3.2-6.0 15.3-23.3 20-16.3 10-6.4 8-4.2 10-2.7 20-0.9 4-1.3 4-2.9 1.2-2.0 0.8-4.0-3.2-16.0 0.2-10.0 2.3-6.0 2.7-3.9 4-3.7 4-2.4 6-2.4 6-1.2 6 0.1 4 0.8 8 3.6 12 9.6 6 2.0 6-0.7 6.6-3.8 1.7-2.0 0.9-4.0-4-14.0-0.3-4.0 1.1-4.0 3-4.0 7-6.0 6-6.9 9.5-9.1 3-6.0 3.2-14.0 0.6-6.0-0.5-4.0-5-12.0-1.7-6.0-0.3-16.0-1.4-2.0-3.4-0.8-2.6 0.8-3.4 2.7-4 5.3-6.6 12.0-3.4 4.0-4 3.1-16 7.0-10 8.0-6 3.2-6 0.8-3.7-2.1-1.4-2.0-1.4-4.0-0.2-4.0 2.1-8.0 2.9-4.0 7.7-4.2 1.7-1.8 0.3-2.0-2-3.3-10-7.9-8-10.8-9.4-8.0-1.3-4.0 0.1-4.0 12.4-40.0 6.8-14.0 8.6-14.0 5.7-12.0 2-8.0 0-6.0-2.1-6.0-4.8-7.5-12-15.2-10-10.6-15.6-18.7-10.4-8.2z" fill="#84cd28" fill-rule="evenodd"/>
<path d="M848.2,64l124.6 0.0-9.1 24.0-12.2 42.0-1.6 10.0-1.5 28.0-1.1 6.0-3.6 8.0-11.5 17.0-3.6 11.0-0.9 10.0 0.8 18.0-4.6 48.0 1.6 24.0 8.2 36.0 2.6 18.0 5.4 26.0 1.1 12.0 1.4 4.0 6 9.8 3.8 4.2 16.6 12.0 18.7 18.0 11.1 12.0 21.7 18.0 7 8.0 4.4 10.0 3.4 16.0 5.1 18.0 1.4 8.0-0.1 8.0-195.1 0zM1232.7,64l135.5 0.0 0 267.7-20-16.0-3.3-3.7-2.1-4.0-3.9-18.0-5.7-12.0-1.6-6.0 1.2-6.0 6-8.0 1.9-4.0-0.1-4.0-2.4-3.2-4-1.7-14-3.4-4 0.4-4 1.6-4 3.2-2.5 3.1-11.5 21.5-4 3.3-4 1.0-4-0.8-2-1.4-6.7-11.6-5.1-6.0-4.2-2.5-8-2.2-4-1.9-4-3.4-4-6.0-1.1-4.0 0.6-4.0 3.7-8.0 4.3-14.0 4.5-10.7 2.9-11.3 7.1-9.6 3.9-8.4 2.1-2.3 5.3-3.7 0.7-1.3 0.1-2.7-2-6.0-0.2-4.0 1.5-4.0 5.5-6.0 1.7-6.0-1.6-4.0-11-10.5-4-5.0-6-13.7-2.9-4.8zM1317.1,340l3.1-1.5 4-0.4 8 2.3 9.6 5.6 4 4.0 2.4 4.0 0.9 6.0-2 6.0-2.9 3.4-8.6 6.6-0.1 2.0 2.9 4.0 4.8 4.0 15 8.1 10 6.9 0 57.0-10.2 12.0-7.8 7.8-25.2 20.2-4.8 4.8-4.7 7.2-11.2 24.0-9.1 14.0-112.1 0.0-8.9-9.3-4-2.5-8-1.1-20 0.2-4-0.7-4.5-2.6-3-4.0-1.2-4.0 0.1-6.0 1.4-4.0 3.2-4.5 4-3.0 11.7-2.5 2.8-2.0 3-4.0 0.9-4.0-0.9-2.0-3.1-2.0-0.7-2.0 2.3-1.0 6-0.3 4-3.0 2-2.7 2-4.8 0.5-4.2-2.1-10.0-0.1-6.0 1.4-4.0 2.3-3.2 6-4.1 12.7-4.7 12.5-6.0 12.8-4.1 17.6-3.9 7-4.0 2.9-4.0 1-4.0-0.8-4.0-5.4-12.0-0.3-6.0 2.8-6.0 5.2-4.0 6-1.8 8 0.4 4 1.5 12 7.1 4 1.3 6 0.3 10-2.0 23.3-8.8 3.8-2.0 2-2.0 0.3-2.0-1.1-2.0-12.3-11.0-2-3.0-1-4.0 1.9-6.0 3.1-3.8z" fill="#afde20" fill-rule="evenodd"/>
<path d="M848.2,64l113.9 0.0-8.1 26.0-8.4 36.0-1.4 14.0 0 30.2-4 8.1-13.2 17.7-5.4 14.0-0.3 6.0 1.3 18.0-6.1 46.0-0.1 16.0 1 12.0 2.3 14.0 6.9 28.0 2.9 20.0 3.9 18.0 1.4 14.0 1.3 4.0 6.1 8.0 6 10.2 15.6 13.8 16.4 22.3 14 14.0 17.5 15.7 6.6 8.0 4 8.0 2 10.0 0.8 18.0-1.6 14.0-175.3 0zM1260,64l108.2 0.0 0 248.0-10-5.6-6.5-6.4-3.5-6.2-6-17.8 0-6.0 6-9.8 1.7-4.2 0.4-6.0-1.3-4.0-4.8-5.1-4-1.8-6-1.5-2.5-1.6-0.8-2.0-0.9-16.0 1.1-4.0 3-4.0 12.6-12.0 3.7-6.0 2.1-6.0 0.4-6.0-0.9-4.0-2.3-4.0-3.5-2.8-6-1.5-8 1.8-4.1 2.5-5.9 7.1-2 1.4-2 0.4-2-0.7-7.5-6.2-4.5-2.3-6-1.0-4 1.7-0.9 1.6-0.7 4.0 1 8.0 2.6 5.3 2 2.1 4 1.9 4 0.1 1.2 0.6-1.2 10.0 0.4 4.0 1.6 5.1 3.6 6.9 1.1 4.0-0.7 3.7-1.5 2.3-8.5 9.1-8 11.0-4 4.3-2 1.0-4-0.5-8.9-6.9-5.1-3.1-4-1.2-12-1.6-2.9-2.1-1.1-1.9 0.3-4.1 3.7-7.8 3.6-12.2 5.3-12.0 2.9-14.0 5.2-8.0 5-9.7 2-1.7 5.6-2.6 2.3-2.0 0.7-4.0-3-8.0-0.5-4.0 0.9-2.0 12.3-14.0 1.7-4.0 0.6-4.0-0.5-4.0-2-4.0-10.1-12.0-11.7-22zM1308.4,392l3.8-1.0 4 0.0 6 2.3 23.4 18.7 4.6 6.0 2.7 6.0 1.3 6.0-0.3 8.0-1.5 6.0-3.6 8.0-10.3 14.0-11.7 12.0-17 12.0-3.6 3.8-2 4.2-6 20.0-4 10.0-5.8 10.0-8.1 10.0-90.5 0.0-15.6-13.7-4-2.1-6-0.9-20 0.8-4-1.0-3.5-3.1-1.5-4.0-0.1-4.0 1.1-3.3 2.1-2.7 3.9-2.2 11.8-1.8 16.2-5.2 8.9-6.8 5.8-6.0 0.6-4.0-4.5-10.0-1.7-10.0 0.9-8.0 2.7-4.0 3.3-2.1 10.5-3.9 11.5-6.8 10-4.8 24-6.4 5.9-4.0 10.1-9.3 4-2.8 10-4.8 15.5-5.1 16.9-12z" fill="#dcf010" fill-rule="evenodd"/>
<path d="M848.2,64l103.6 0.0-7.3 28.0-5.4 30.0-1 16.0 1.1 24.0-0.4 6.0-1.5 4.0-2.6 4.0-18.5 22.2-2.3 3.8-1.1 4.0 0.2 6.0 2.8 16.0 0 4.0-7.2 52.0-1.2 14.0 0.3 8.0 4.8 26.0 5.9 22.0 9.6 52.0 8.6 14.0 3.1 14.0 2 4.0 2.5 1.6 6 1.8 4 3.0 16.4 21.6 26.8 30.0 7.2 10.0 3 8.0 1 10.0-0.9 10.0-3.4 14.0-156.1 0zM1293.8,64l74.4 0.0 0 68.1-24-15.4-10-8.1-24-24.4-13.8-16.2zM1304.1,136l4.1-0.7 7.6 2.7 4.4 2.2 3.3 3.8 0.8 6.0-2 6.0-4.1 5.8-4 2.5-4-0.2-8-3.6-4-3.0-2.5-3.5-0.6-4.0 1.5-4.0 3.6-6zM1280,184l2.2-0.9 2 1.1 1.5 3.8 0.4 4.0-1.9 5.9-4 4.6-2 0.7-2-2.0-1.6-7.2 1.6-5.3zM1355.3,216l12.9-11.1 0 90.2-4-1.8-4-3.3-3.1-6.0-0.8-6.0 0.5-4.0 5.7-16.0 1-10.0-0.6-4.0-2.1-6.0-8-12.0-1.2-4.0 0.5-2zM1276,210l2.2-1.0 2 1.2 12 9.8 2 2.1 2 3.8 0 2.2-2 4.4-4 4.6-4 2.7-6 0.2-16-3.2-2-0.8-2-2.6 0-5.4 2-4.3 4-4.7zM1299.8,416l4.4-0.4 10 1.1 8-2.2 4 0.6 4 3.4 4 7.0 1.2 6.5-0.8 6.0-2.4 6.0-9.6 14.0-7.8 14.0-4.1 4.0-8.5 6.2-4.8 5.8-4.2 10.0-7.2 22.0-5.8 11.7-6 7.5-10 8.8-64.6 0.0-11.4-6.4-14-11.0-6-3.1-6-0.6-16 2.2-4-1.0-2.1-2.1-0.7-2.0 0.3-4.0 2.5-3.1 4-1.6 14-0.6 8-2.1 6-3.2 16-11.2 4-4.0 0.9-2.2-0.2-4.0-6.8-10.0-2.2-6.0 0.3-6.0 2-4.0 2-2.0 18-8.6 38-14.1 16-9.6 6-2.8 10-3.4z" fill="#fff600" fill-rule="evenodd"/>
<path d="M848.2,64l93.4 0.0-5.8 26.0-3.5 24.0-1.1 20.0 0.9 26.0-0.9 6.0-4.4 8.0-16.6 19.3-2.7 4.7-1.8 6.0-0.2 6.0 0.8 10.0-0.8 20.0-2.5 12.0-0.6 12.0-2.8 14.0-0.9 12.0-2.2 12.0 0.1 6.0 3.6 16.0 2.4 16.0 7.1 18.0 0.6 6.0-0.4 8.0 0.7 4.0 5 14.0 3.2 14.0 6.5 12.0 2 6.0 0.2 18.0 1.1 6.0 1.6 4.6 2 3.6 4 4.1 4 2.3 12 4.5 10 9.1 12.7 15.8 7 12.0 3.6 8.0 1.9 8.0 0 10.0-1.6 8.0-4 12.0-133.6 0zM1354.5,64l13.7 0.0 0 9.1-8.8-5.1zM1294.8,426l7.4-0.6 6.9 2.6 3.7 4.0 0.7 2.0-0.2 4.0-2 4.0-4.9 6.0-2.2 4.0-2.3 12.0-1.7 4.0-9.1 12.0-7.5 14.0-2.4 6.0-4.5 16.0-3.4 8.0-5.1 7.5-6 5.8-8 4.9-10 3.4-10 1.8-10-0.4-20-3.8-12-3.8-10-5.9-10-9.5-1.2-2.0-0.1-2.0 2.5-4.0 6.8-5.5 14-8.8 2.2-1.7 2.7-4.0 0.9-4.0-0.4-4.0-1.7-4.0-5.3-8.0-1.4-4.0 0.2-4.0 2.8-4.2 4-2.7 6-2.5 22-6.1 42-18.5zM1144.3,522l1.9-1.3 2-0.2 2.4 1.5-1.1 2.0-3.3 0.8-1.8-0.8z" fill="#ffbb00" fill-rule="evenodd"/>
<path d="M848.2,64l83.2 0.0-4.2 22.0-2.8 22.0-1 18.0 0.2 26.0-0.9 8.0-2 6.0-2.4 4.0-15.2 20.0-4.1 10.0-1.2 8.0-0.8 20.0-11.3 36.0 1.1 24.0-1.3 2.0-7.3 2.3-6 4.5-2 0.5-8-0.9-5.6 1.6-3.1 2.0-5.3 5.1zM848.2,548l0-224.8 6 4.6 6 2.3 14 0.7 4 1.0 2.1 2.2 0.5 2.0-0.5 6.0 0.4 2.0 1.4 2.0 8.1 3.1 4 2.3 4 3.7 2 2.9 1.4 6.0-1.2 4.0-2.2 2.3-5 1.7-1 2.0 0.3 2.0 1.7 3.3 6.6 8.7 5.4 16.9 2.4 3.1 6.4 6.0 2 4.0 0.9 6.0-0.8 20.0 3 12.0 2.8 6.0 3.3 4.6 9 7.4 1.6 2.0 1.2 8.0 1.8 4.0 2.4 2.2 6.7 3.8 3.3 3.2 3.8 6.8 1.9 6.0 1.3 8.0-0.5 10.0-1.8 8.0-4.4 12zM1260.9,446l11.3-1.6 8 1.2 3.1 2.4 0.9 6.0-1.2 6.0-1.7 4.0-7.1 10.0-7 14.0-0.4 4.0 1.2 12.0-0.8 8.0-3 8.2-5.8 7.8-6.2 4.9-6.3 3.1-7.7 2.2-10 1.1-20-1.4-12-1.7-10-3.8-5.9-4.4-2.8-4.0-0.5-2.0 1.2-4.0 6-5.4 15.4-8.6 2.6-2.7 1.5-3.3 0.5-4.0-0.8-6.0-6.7-16.0 0.2-2.0 1.3-2.3 4-2.8 6-2.2 22-4.0 14-7.5z" fill="#ff8000" fill-rule="evenodd"/>
<path d="M848.2,64l72.7 0.0-5 36.0-1.7 44.0-1.2 10.0-3.5 10.0-13.3 21.2-5.2 12.8-4.4 28.0-6.3 20.0-2.1 9.0-0.6 7.0 1.3 14.0-0.7 4.0-2.9 4.0-5.1 2.8-14 1.3-8 1.8zM867.8,366l6.4-2.5 4 0.5 2 1.1 1.9 2.9 1 8.0-2 12.0 0.9 4.0 7.7 16.0 12.5 13.9 3.4 8.1 0.9 6.0-0.4 8.0 0.5 6.0 9.1 30.0 6.4 38.0-0.3 14.0-4.5 16.0-69.1 0.0 0-173.0 10 8.9 4 1.6 4 0.1 2.6-1.6 0.6-2.0-1.2-3.9-2.3-4.1-0.6-4zM1248.2,460l4-1.6 4-0.1 3.7 1.7 1.7 4.0-1.1 10.0-4.2 10.0-1.4 6.0 2.1 14.0-0.1 6.0-2.2 6.0-2.9 4.0-4.6 4.0-6.8 4.0-6.2 2.3-6 1.2-34-0.9-6-1.6-4-2.4-1.9-2.6-0.3-2.0 2.2-3.8 4-2.7 14-6.6 3.4-2.9 2.4-4.0 1.2-4.0 0.1-4.0-5-18.0 0.5-4.0 1.4-1.7 4-2.2 6-1.0 8 0.2 14 2.2 2.9-1.5 4.6-6z" fill="#ff4600" fill-rule="evenodd"/>
<path d="M848.2,64l62 0.0-3.6 28.0-2.6 44.0-1.5 12.0-3.8 12.0-12.3 24.0-5 14.0-12 52.0-0.3 10.0 2.2 16.0-1.1 2.3-4 1.6-18-0.1zM848.2,548l0-135.0 2 0.5 12 4.6 5.6 3.9 4.4 4.6 7.3 9.4 5 8.0 2.5 6.0 3.2 11.4 2.1 10.6 1 10.0 0.1 12.0-1 14.0-1.5 10.0-2.5 10.0-8.2 20zM1215.7,474l4.5 0.4 2.8 1.6 1.5 2.0 0.6 2.0-0.9 3.5-2 2.5-2 1.1-4-0.2-2-1.5-2.1-3.4-0.5-4.0 0.6-1.6zM1216.8,500l3.4-1.7 4 1.1 4 4.1 5 8.5 0.7 4.0-0.5 2.0-1.3 2.0-3.9 3.0-6 1.5-6-0.3-8-1.7-4.3-2.5-0.5-2.0 1.8-4.0 7-9.2z" fill="#ff0e00" fill-rule="evenodd"/>
<path d="M848.2,64l50.7 0.0-3 26.0-2.9 40.0-2.7 16.0-3.8 12.0-9.7 22.0-5.2 14.0-11.2 40.0-5.9 24.0-2.3 4.1-4 2.5zM848.2,520.1l0-53.4 2 2.5 2.7 6.8 1.3 6.0 0.7 8.0-1.7 16.0-2.8 10zM1214.7,510l3.5-1.7 2 0.2 2 1.2 1.5 2.3 0.3 2.0-0.8 2.0-3.1 2.0-3.9-0.3-2-1.1-1.5-2.6 0.5-2z" fill="#d00000" fill-rule="evenodd"/>
</g>
<polygon points="170.60,640.6 170.60,670.2 139.50,655.40" fill="#c800ff" stroke="#000" stroke-width="1.4" stroke-linejoin="miter"/>
<rect x="170.60" y="640.6" width="31.22" height="29.60" fill="#881eff" stroke="#000" stroke-width="1.4"/>
<rect x="201.82" y="640.6" width="31.22" height="29.60" fill="#4637f5" stroke="#000" stroke-width="1.4"/>
<rect x="233.04" y="640.6" width="31.22" height="29.60" fill="#3c50cd" stroke="#000" stroke-width="1.4"/>
<rect x="264.26" y="640.6" width="31.22" height="29.60" fill="#2869a0" stroke="#000" stroke-width="1.4"/>
<rect x="295.48" y="640.6" width="31.22" height="29.60" fill="#148073" stroke="#000" stroke-width="1.4"/>
<rect x="326.70" y="640.6" width="31.22" height="29.60" fill="#00984b" stroke="#000" stroke-width="1.4"/>
<rect x="357.92" y="640.6" width="31.22" height="29.60" fill="#2eaa40" stroke="#000" stroke-width="1.4"/>
<rect x="389.14" y="640.6" width="31.22" height="29.60" fill="#5abe37" stroke="#000" stroke-width="1.4"/>
<rect x="420.36" y="640.6" width="31.22" height="29.60" fill="#84cd28" stroke="#000" stroke-width="1.4"/>
<rect x="451.58" y="640.6" width="31.22" height="29.60" fill="#afde20" stroke="#000" stroke-width="1.4"/>
<rect x="482.80" y="640.6" width="31.22" height="29.60" fill="#dcf010" stroke="#000" stroke-width="1.4"/>
<rect x="514.02" y="640.6" width="31.22" height="29.60" fill="#fff600" stroke="#000" stroke-width="1.4"/>
<rect x="545.24" y="640.6" width="31.22" height="29.60" fill="#ffbb00" stroke="#000" stroke-width="1.4"/>
<rect x="576.46" y="640.6" width="31.22" height="29.60" fill="#ff8000" stroke="#000" stroke-width="1.4"/>
<rect x="607.68" y="640.6" width="31.22" height="29.60" fill="#ff4600" stroke="#000" stroke-width="1.4"/>
<rect x="638.90" y="640.6" width="31.22" height="29.60" fill="#ff0e00" stroke="#000" stroke-width="1.4"/>
<rect x="670.12" y="640.6" width="31.22" height="29.60" fill="#d00000" stroke="#000" stroke-width="1.4"/>
<polygon points="701.34,640.6 701.34,670.2 732.70,655.40" fill="#960000" stroke="#000" stroke-width="1.4"/>
<rect x="123.90" y="692.25" width="17.9" height="3.2" rx="1.4" fill="#000"/>
<text x="153.55 168.85 183.05 202.25" y="703.8" class="cb" text-anchor="middle">0.25</text>
<rect x="248.78" y="692.25" width="17.9" height="3.2" rx="1.4" fill="#000"/>
<text x="278.43 293.73 307.93 327.13" y="703.8" class="cb" text-anchor="middle">0.17</text>
<rect x="373.66" y="692.25" width="17.9" height="3.2" rx="1.4" fill="#000"/>
<text x="403.31 418.61 432.81 452.01" y="703.8" class="cb" text-anchor="middle">0.09</text>
<rect x="498.54" y="692.25" width="17.9" height="3.2" rx="1.4" fill="#000"/>
<text x="528.19 543.49 557.69 576.89" y="703.8" class="cb" text-anchor="middle">0.01</text>
<text x="640.17 655.47 669.67 688.87" y="703.8" class="cb" text-anchor="middle">0.07</text>
<polygon points="839.00,640.6 839.00,670.2 807.90,655.40" fill="#c800ff" stroke="#000" stroke-width="1.4" stroke-linejoin="miter"/>
<rect x="839.00" y="640.6" width="31.22" height="29.60" fill="#881eff" stroke="#000" stroke-width="1.4"/>
<rect x="870.22" y="640.6" width="31.22" height="29.60" fill="#4637f5" stroke="#000" stroke-width="1.4"/>
<rect x="901.44" y="640.6" width="31.22" height="29.60" fill="#3c50cd" stroke="#000" stroke-width="1.4"/>
<rect x="932.66" y="640.6" width="31.22" height="29.60" fill="#2869a0" stroke="#000" stroke-width="1.4"/>
<rect x="963.88" y="640.6" width="31.22" height="29.60" fill="#148073" stroke="#000" stroke-width="1.4"/>
<rect x="995.10" y="640.6" width="31.22" height="29.60" fill="#00984b" stroke="#000" stroke-width="1.4"/>
<rect x="1026.32" y="640.6" width="31.22" height="29.60" fill="#2eaa40" stroke="#000" stroke-width="1.4"/>
<rect x="1057.54" y="640.6" width="31.22" height="29.60" fill="#5abe37" stroke="#000" stroke-width="1.4"/>
<rect x="1088.76" y="640.6" width="31.22" height="29.60" fill="#84cd28" stroke="#000" stroke-width="1.4"/>
<rect x="1119.98" y="640.6" width="31.22" height="29.60" fill="#afde20" stroke="#000" stroke-width="1.4"/>
<rect x="1151.20" y="640.6" width="31.22" height="29.60" fill="#dcf010" stroke="#000" stroke-width="1.4"/>
<rect x="1182.42" y="640.6" width="31.22" height="29.60" fill="#fff600" stroke="#000" stroke-width="1.4"/>
<rect x="1213.64" y="640.6" width="31.22" height="29.60" fill="#ffbb00" stroke="#000" stroke-width="1.4"/>
<rect x="1244.86" y="640.6" width="31.22" height="29.60" fill="#ff8000" stroke="#000" stroke-width="1.4"/>
<rect x="1276.08" y="640.6" width="31.22" height="29.60" fill="#ff4600" stroke="#000" stroke-width="1.4"/>
<rect x="1307.30" y="640.6" width="31.22" height="29.60" fill="#ff0e00" stroke="#000" stroke-width="1.4"/>
<rect x="1338.52" y="640.6" width="31.22" height="29.60" fill="#d00000" stroke="#000" stroke-width="1.4"/>
<polygon points="1369.74,640.6 1369.74,670.2 1401.10,655.40" fill="#960000" stroke="#000" stroke-width="1.4"/>
<rect x="792.30" y="692.25" width="17.9" height="3.2" rx="1.4" fill="#000"/>
<text x="821.95 837.25 851.45 870.65" y="703.8" class="cb" text-anchor="middle">0.38</text>
<rect x="917.18" y="692.25" width="17.9" height="3.2" rx="1.4" fill="#000"/>
<text x="946.83 962.13 976.33 995.53" y="703.8" class="cb" text-anchor="middle">0.26</text>
<rect x="1042.06" y="692.25" width="17.9" height="3.2" rx="1.4" fill="#000"/>
<text x="1071.71 1087.01 1101.21 1120.41" y="703.8" class="cb" text-anchor="middle">0.14</text>
<rect x="1166.94" y="692.25" width="17.9" height="3.2" rx="1.4" fill="#000"/>
<text x="1196.59 1211.89 1226.09 1245.29" y="703.8" class="cb" text-anchor="middle">0.02</text>
<text x="1308.57 1323.87 1338.07 1357.27" y="703.8" class="cb" text-anchor="middle">0.10</text>
<path d="M110.00,561.6V573.6M110.00,17.2V5.1M166.49,561.6V573.6M166.49,17.2V5.1M222.98,561.6V573.6M222.98,17.2V5.1M279.47,561.6V573.6M279.47,17.2V5.1M335.96,561.6V573.6M335.96,17.2V5.1M392.45,561.6V573.6M392.45,17.2V5.1M448.94,561.6V573.6M448.94,17.2V5.1M505.43,561.6V573.6M505.43,17.2V5.1M561.92,561.6V573.6M561.92,17.2V5.1M618.41,561.6V573.6M618.41,17.2V5.1M674.90,561.6V573.6M674.90,17.2V5.1M731.39,561.6V573.6M731.39,17.2V5.1M110.0,61.04H97.2M731.40,61.04H744.00M110.0,104.88H97.2M731.40,104.88H744.00M110.0,148.72H97.2M731.40,148.72H744.00M110.0,192.56H97.2M731.40,192.56H744.00M110.0,236.40H97.2M731.40,236.40H744.00M110.0,280.24H97.2M731.40,280.24H744.00M110.0,324.08H97.2M731.40,324.08H744.00M110.0,367.92H97.2M731.40,367.92H744.00M110.0,411.76H97.2M731.40,411.76H744.00M110.0,455.60H97.2M731.40,455.60H744.00M110.0,499.44H97.2M731.40,499.44H744.00M110.0,543.28H97.2M731.40,543.28H744.00" stroke="#000" stroke-width="1.75" fill="none"/>
<rect x="110.0" y="17.2" width="621.4" height="544.40" fill="none" stroke="#000" stroke-width="1.75"/>
<text x="80.75 103.75 120.75 139.25" y="619.7" class="ax" text-anchor="middle">79.6</text>
<text x="193.73 216.73 233.73 252.23" y="619.7" class="ax" text-anchor="middle">80.0</text>
<text x="306.71 329.71 346.71 365.21" y="619.7" class="ax" text-anchor="middle">80.4</text>
<text x="419.69 442.69 459.69 478.19" y="619.7" class="ax" text-anchor="middle">80.8</text>
<text x="532.67 555.67 572.67 591.17" y="619.7" class="ax" text-anchor="middle">81.2</text>
<text x="645.65 668.65 685.65 704.15" y="619.7" class="ax" text-anchor="middle">81.6</text>
<polyline points="306.80,17.2 293.50,89.5 224.50,197.5 151.80,290.5 151.80,400 174.80,492.5 174.80,561.6" fill="none" stroke="#000" stroke-width="3.4" stroke-linejoin="round"/>
<text x="122.80" y="53.6" class="pl">A</text>
<path d="M778.40,561.6V573.6M778.40,17.2V5.1M834.89,561.6V573.6M834.89,17.2V5.1M891.38,561.6V573.6M891.38,17.2V5.1M947.87,561.6V573.6M947.87,17.2V5.1M1004.36,561.6V573.6M1004.36,17.2V5.1M1060.85,561.6V573.6M1060.85,17.2V5.1M1117.34,561.6V573.6M1117.34,17.2V5.1M1173.83,561.6V573.6M1173.83,17.2V5.1M1230.32,561.6V573.6M1230.32,17.2V5.1M1286.81,561.6V573.6M1286.81,17.2V5.1M1343.30,561.6V573.6M1343.30,17.2V5.1M1399.79,561.6V573.6M1399.79,17.2V5.1M778.4,61.04H765.6M1399.80,61.04H1412.40M778.4,104.88H765.6M1399.80,104.88H1412.40M778.4,148.72H765.6M1399.80,148.72H1412.40M778.4,192.56H765.6M1399.80,192.56H1412.40M778.4,236.40H765.6M1399.80,236.40H1412.40M778.4,280.24H765.6M1399.80,280.24H1412.40M778.4,324.08H765.6M1399.80,324.08H1412.40M778.4,367.92H765.6M1399.80,367.92H1412.40M778.4,411.76H765.6M1399.80,411.76H1412.40M778.4,455.60H765.6M1399.80,455.60H1412.40M778.4,499.44H765.6M1399.80,499.44H1412.40M778.4,543.28H765.6M1399.80,543.28H1412.40" stroke="#000" stroke-width="1.75" fill="none"/>
<rect x="778.4" y="17.2" width="621.4" height="544.40" fill="none" stroke="#000" stroke-width="1.75"/>
<text x="749.15 772.15 789.15 807.65" y="619.7" class="ax" text-anchor="middle">79.6</text>
<text x="862.13 885.13 902.13 920.63" y="619.7" class="ax" text-anchor="middle">80.0</text>
<text x="975.11 998.11 1015.11 1033.61" y="619.7" class="ax" text-anchor="middle">80.4</text>
<text x="1088.09 1111.09 1128.09 1146.59" y="619.7" class="ax" text-anchor="middle">80.8</text>
<text x="1201.07 1224.07 1241.07 1259.57" y="619.7" class="ax" text-anchor="middle">81.2</text>
<text x="1314.05 1337.05 1354.05 1372.55" y="619.7" class="ax" text-anchor="middle">81.6</text>
<polyline points="975.20,17.2 961.90,89.5 892.90,197.5 820.20,290.5 820.20,400 843.20,492.5 843.20,561.6" fill="none" stroke="#000" stroke-width="3.4" stroke-linejoin="round"/>
<text x="795.30" y="53.6" class="pl">B</text>
<text x="10.35 33.35 50.35 68.85" y="30.50" class="ax" text-anchor="middle">13.0</text>
<text x="10.35 33.35 50.35 68.85" y="118.18" class="ax" text-anchor="middle">12.6</text>
<text x="10.35 33.35 50.35 68.85" y="205.86" class="ax" text-anchor="middle">12.2</text>
<text x="10.35 33.35 50.35 68.85" y="293.54" class="ax" text-anchor="middle">11.8</text>
<text x="10.35 33.35 50.35 68.85" y="381.22" class="ax" text-anchor="middle">11.4</text>
<text x="10.35 33.35 50.35 68.85" y="468.90" class="ax" text-anchor="middle">11.0</text>
<text x="10.35 33.35 50.35 68.85" y="556.58" class="ax" text-anchor="middle">10.6</text>
</svg></body></html>
